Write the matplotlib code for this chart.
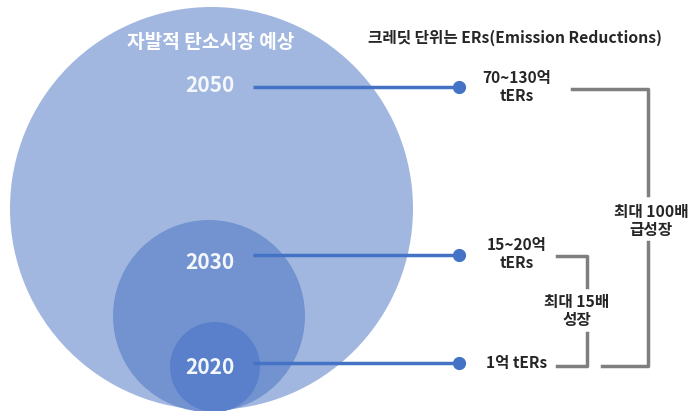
import matplotlib.pyplot as plt
from matplotlib.patches import Circle

plt.rcParams['font.family'] = ['Noto Sans CJK KR', 'DejaVu Sans']

# data
YEARS = ['2050', '2030', '2020']
VOLUMES = ['70~130억\ntERs', '15~20억\ntERs', '1억 tERs']
GROWTH = ['최대 100배\n급성장', '최대 15배\n성장']
TITLE_LEFT = '자발적 탄소시장 예상'
TITLE_RIGHT = '크레딧 단위는 ERs(Emission Reductions)'

# layout (pixel coords)
CIRCLES = [(211.5, 208.5, 201.5, '#a1b7e0'),
           (209, 316, 96, '#7293d0'),
           (215, 367, 45, '#5b80cb')]
YEAR_Y = [85, 262, 367]
LINE_Y = [87, 255, 363]
VOL_Y = [87, 254, 363]
DOT_X = 459
LINE_X0 = 253
BLUE = '#4472c4'
GRAY = '#7f7f7f'

fig = plt.figure(figsize=(6.92, 4.11), dpi=100)
ax = fig.add_axes([0, 0, 1, 1])
ax.set_xlim(0, 692)
ax.set_ylim(411, 0)
ax.axis('off')

for cx, cy, r, c in CIRCLES:
    ax.add_patch(Circle((cx, cy), r, color=c, lw=0))

ax.text(211, 42, TITLE_LEFT, color='white', fontsize=13.8, fontweight='bold',
        ha='center', va='center')
ax.text(515, 38, TITLE_RIGHT, color='#262626', fontsize=11.3, fontweight='bold',
        ha='center', va='center')

for i in range(3):
    ax.text(210, YEAR_Y[i], YEARS[i], color='#f4f7fc', fontsize=15,
            fontweight='bold', ha='center', va='center')
    ax.plot([LINE_X0, DOT_X], [LINE_Y[i], LINE_Y[i]], color=BLUE, lw=2.5,
            solid_capstyle='butt')
    ax.plot(DOT_X, LINE_Y[i], 'o', color=BLUE, ms=8.5)
    ax.text(517, VOL_Y[i], VOLUMES[i], color='#262626', fontsize=11.2,
            fontweight='bold', ha='center', va='center', linespacing=1.2)

# big bracket
ax.plot([572, 648, 648], [89, 89, 195], color=GRAY, lw=2.5)
ax.plot([602, 648, 648], [366, 366, 242], color=GRAY, lw=2.5)
ax.text(651, 221, GROWTH[0], color='#262626', fontsize=11.3, fontweight='bold',
        ha='center', va='center', linespacing=1.15)

# small bracket
ax.plot([557, 587, 587], [256, 256, 287], color=GRAY, lw=2.5)
ax.plot([557, 587, 587], [366, 366, 333], color=GRAY, lw=2.5)
ax.text(577, 311, GROWTH[1], color='#262626', fontsize=11.3, fontweight='bold',
        ha='center', va='center', linespacing=1.15)

fig.savefig('out.png', dpi=100)
